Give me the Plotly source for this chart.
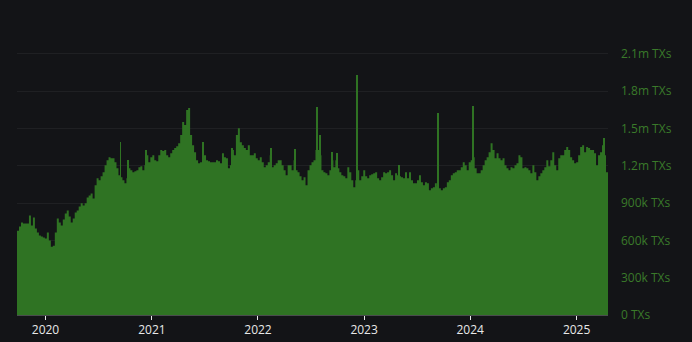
import pandas as pd
import plotly.graph_objects as go

# Daily transaction envelope, read at ~1 week resolution (thousands of TXs)
start_date = "2019-09-25"
end_date = "2025-04-19"
tx_k = [
    678, 711, 743, 735, 735, 735, 800, 719, 783, 695, 662, 638, 630, 622, 614, 662, 598, 549, 557, 662,
    775, 743, 719, 767, 816, 840, 792, 743, 775, 824, 840, 872, 897, 880, 897, 945, 961, 977, 937, 1042,
    1098, 1082, 1115, 1147, 1203, 1244, 1268, 1260, 1260, 1228, 1179, 1123, 1107, 1082, 1058, 1098, 1179, 1163, 1147, 1155,
    1163, 1187, 1195, 1163, 1203, 1284, 1228, 1268, 1284, 1244, 1236, 1284, 1325, 1317, 1325, 1284, 1268, 1300, 1325, 1341,
    1357, 1381, 1446, 1551, 1527, 1648, 1664, 1446, 1365, 1308, 1244, 1220, 1228, 1284, 1284, 1244, 1236, 1228, 1228, 1228,
    1244, 1236, 1220, 1300, 1268, 1260, 1179, 1203, 1325, 1284, 1446, 1500, 1389, 1365, 1341, 1325, 1365, 1284, 1284, 1300,
    1260, 1244, 1268, 1228, 1187, 1203, 1228, 1284, 1187, 1203, 1220, 1244, 1244, 1203, 1163, 1123, 1203, 1203, 1163, 1244,
    1163, 1147, 1115, 1082, 1107, 1042, 1163, 1203, 1228, 1244, 1325, 1325, 1284, 1163, 1147, 1139, 1123, 1163, 1244, 1187,
    1244, 1179, 1147, 1123, 1115, 1098, 1187, 1147, 1082, 1026, 1082, 1163, 1082, 1115, 1163, 1115, 1098, 1123, 1131, 1139,
    1147, 1098, 1082, 1107, 1147, 1139, 1147, 1163, 1123, 1082, 1139, 1123, 1115, 1107, 1098, 1147, 1098, 1147, 1082, 1058,
    1058, 1082, 1123, 1066, 1042, 1066, 1058, 1002, 1018, 1026, 1058, 1034, 1018, 1002, 1018, 1026, 1066, 1082, 1123, 1139,
    1147, 1163, 1163, 1187, 1228, 1203, 1163, 1228, 1244, 1268, 1179, 1139, 1139, 1163, 1203, 1244, 1268, 1308, 1381, 1325,
    1260, 1300, 1260, 1244, 1260, 1203, 1179, 1163, 1187, 1179, 1203, 1220, 1284, 1268, 1179, 1187, 1179, 1163, 1139, 1203,
    1147, 1082, 1115, 1139, 1163, 1187, 1244, 1195, 1244, 1308, 1203, 1163, 1260, 1284, 1284, 1325, 1349, 1325, 1268, 1244,
    1220, 1228, 1284, 1349, 1365, 1308, 1349, 1341, 1325, 1325, 1300, 1203, 1284, 1308, 1365, 1284, 1147,
]

# Single-day spikes
spike_dates = [
    "2020-09-15", "2020-10-11", "2020-12-13", "2021-06-26", "2021-10-03", "2022-02-16",
    "2022-05-09", "2022-07-22", "2022-08-03", "2022-09-13", "2022-09-30", "2022-12-07",
    "2023-05-02", "2023-09-11", "2024-01-11", "2025-04-05",
]
spike_k = [1389, 1244, 1325, 1389, 1341, 1341, 1333, 1672, 1446, 1308, 1300, 1930, 1203, 1623, 1680, 1422]

tick_vals = [0, 300000, 600000, 900000, 1200000, 1500000, 1800000, 2100000]
tick_text = ["0 TXs", "300k TXs", "600k TXs", "900k TXs", "1.2m TXs", "1.5m TXs", "1.8m TXs", "2.1m TXs"]

GREEN = "#2f7323"
BG = "#131417"

dates = list(pd.date_range(start_date, end_date, periods=len(tx_k) + 1))
yvals = [v * 1000 for v in tx_k] + [tx_k[-1] * 1000]

fig = go.Figure()
fig.add_trace(go.Scatter(
    x=dates, y=yvals, mode="lines", line=dict(width=0, shape="hv", color=GREEN),
    fill="tozeroy", fillcolor=GREEN, hoverinfo="skip", showlegend=False,
))
fig.add_trace(go.Bar(
    x=pd.to_datetime(spike_dates), y=[v * 1000 for v in spike_k],
    width=3.4 * 86400000, marker=dict(color=GREEN, line=dict(width=0)),
    showlegend=False,
))

fig.update_layout(
    width=692, height=342,
    margin=dict(l=17, r=84, t=35, b=27),
    paper_bgcolor=BG, plot_bgcolor=BG,
    font=dict(family="Open Sans, Noto Sans, sans-serif", size=12),
    bargap=0,
    xaxis=dict(
        type="date", range=[start_date, end_date], automargin=False,
        dtick="M12", tick0="2020-01-01", tickformat="%Y",
        showgrid=False, zeroline=False,
        showline=True, linecolor="#4a4b4e", linewidth=1,
        ticks="outside", ticklen=4, tickcolor="#e8e8e8", tickwidth=1,
        tickfont=dict(color="#e8e8e8", size=12),
    ),
    yaxis=dict(
        side="right", range=[0, 2250000], automargin=False,
        tickvals=tick_vals, ticktext=tick_text,
        showgrid=True, gridcolor="#1f2023", gridwidth=1,
        zeroline=False, showline=False,
        ticks="", ticklabelstandoff=12,
        tickfont=dict(color="#3a7a2a", size=12),
    ),
)

fig.write_html("out.html")
